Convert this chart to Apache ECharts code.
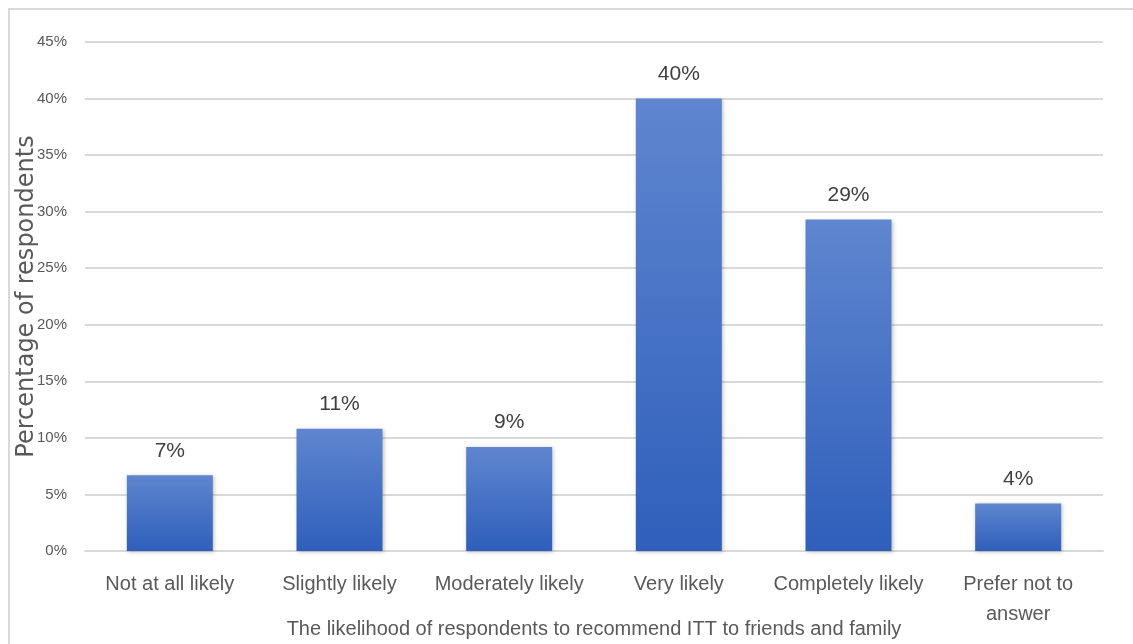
<!DOCTYPE html>
<html>
<head>
<meta charset="utf-8">
<script src="https://cdn.jsdelivr.net/npm/echarts@6/dist/echarts.min.js"></script>
<style>
  html, body { margin: 0; padding: 0; background: #fff; overflow: hidden; }
  #frame { position: absolute; left: 8px; top: 8px; width: 1140px; height: 650px; border: 2px solid #d9d9d9; }
  #chart { position: absolute; left: 0; top: 0; width: 1133px; height: 644px; }
</style>
</head>
<body>
<div id="frame"></div>
<div id="chart"></div>
<script>
const categories = ['Not at all likely', 'Slightly likely', 'Moderately likely', 'Very likely', 'Completely likely', 'Prefer not to\nanswer'];
const values = [6.7, 10.8, 9.2, 40.0, 29.3, 4.2];
const valueLabels = ['7%', '11%', '9%', '40%', '29%', '4%'];

const textColor = '#595959';
const font = "'Liberation Sans', Arial, sans-serif";

const chart = echarts.init(document.getElementById('chart'));
chart.setOption({
  animation: false,
  grid: { left: 85, right: 30, top: 42, bottom: 93, outerBoundsMode: 'none', containLabel: false },
  xAxis: {
    type: 'category',
    data: categories,
    name: 'The likelihood of respondents to recommend ITT to friends and family',
    nameLocation: 'middle',
    nameGap: 68,
    nameMoveOverlap: false,
    nameTextStyle: { color: textColor, fontSize: 20, fontFamily: font },
    axisLine: { lineStyle: { color: '#d9d9d9', width: 2 } },
    axisTick: { show: false },
    axisLabel: {
      color: textColor, fontSize: 20, fontFamily: font,
      margin: 18, lineHeight: 30, interval: 0
    }
  },
  yAxis: {
    type: 'value',
    min: 0,
    max: 45,
    interval: 5,
    name: 'Percentage of respondents',
    nameLocation: 'middle',
    nameRotate: 90,
    nameGap: 46,
    nameMoveOverlap: false,
    nameTextStyle: { color: textColor, fontSize: 24, fontFamily: "'DejaVu Sans', sans-serif" },
    axisLabel: { formatter: '{value}%', color: textColor, fontSize: 15, fontFamily: font, margin: 18 },
    splitLine: { lineStyle: { color: '#d9d9d9', width: 2 } }
  },
  series: [{
    type: 'bar',
    data: values,
    barWidth: 86,
    itemStyle: {
      color: new echarts.graphic.LinearGradient(0, 0, 0, 1, [
        { offset: 0, color: '#5f86cf' },
        { offset: 1, color: '#2f5fbb' }
      ]),
      shadowColor: 'rgba(0,0,0,0.25)',
      shadowBlur: 4,
      shadowOffsetX: 1,
      shadowOffsetY: 1
    },
    label: {
      show: true,
      position: 'top',
      distance: 14,
      color: '#404040',
      fontSize: 21,
      fontFamily: font,
      formatter: p => valueLabels[p.dataIndex]
    }
  }]
});
</script>
</body>
</html>
